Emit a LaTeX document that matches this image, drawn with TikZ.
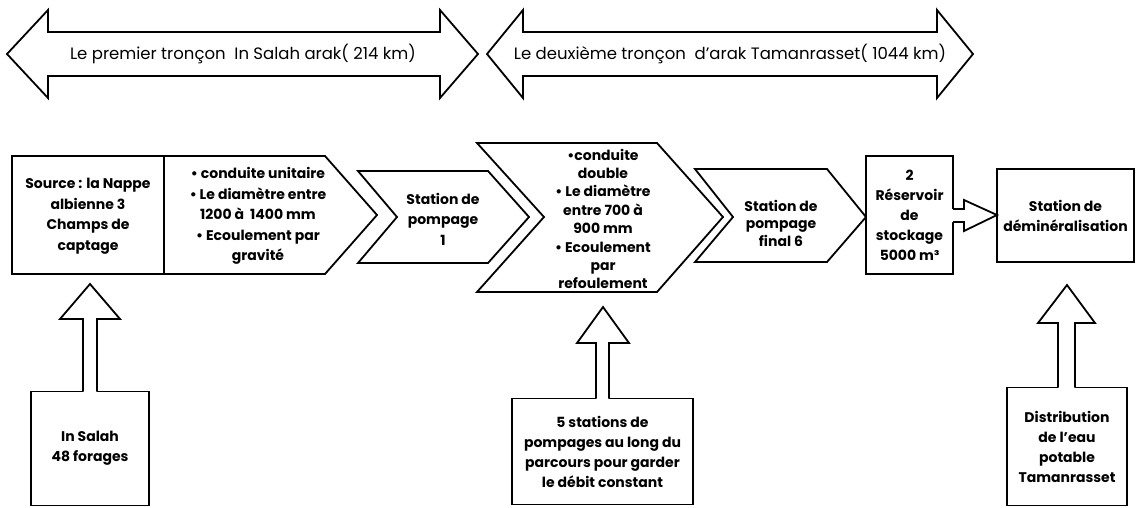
\documentclass[tikz,border=0pt]{standalone}
\usepackage{fontspec}
\setmainfont{Poppins}
\begin{document}
\begin{tikzpicture}[x=1pt,y=-1pt,
  shp/.style={draw=black, line width=1.8pt, fill=white, line join=miter},
  ol/.style={draw=black, line width=1.8pt, line join=miter},
  lbl/.style={align=center, inner sep=0pt, font=\bfseries\fontsize{14}{20.5}\selectfont},
  toplbl/.style={align=center, inner sep=0pt, font=\fontsize{16.5}{18}\selectfont},
  box/.style={draw=black, line width=1.8pt, fill=white, inner sep=0pt, outer sep=0pt, align=center, font=\bfseries\fontsize{14}{20}\selectfont}]
\useasboundingbox (0,0) rectangle (1137,507);

% top double arrows
\draw[shp] (7,54) -- (48,10) -- (48,32) -- (440,32) -- (440,10) -- (478,54) -- (440,98) -- (440,76) -- (48,76) -- (48,98) -- cycle;
\node[toplbl] (t1) at (243,54) {Le premier tronçon\ \ In Salah arak( 214 km)};
\draw[shp] (487,54) -- (523,10) -- (523,32) -- (937,32) -- (937,10) -- (973,54) -- (937,98) -- (937,76) -- (523,76) -- (523,98) -- cycle;
\node[toplbl] (t2) at (730,54) {Le deuxième tronçon\ \ d’arak Tamanrasset( 1044 km)};

% main row
\draw[shp] (12,156) -- (325,156) -- (377,215) -- (325,274) -- (12,274) -- cycle;
\draw[ol] (164,156) -- (164,274);
\node[lbl] (src) at (88,216) {Source : la Nappe\\albienne 3\\Champs de\\captage};
\node[lbl] (cu) at (258,216) {• conduite unitaire\\• Le diamètre entre\\1200 à\ \ 1400 mm\\• Ecoulement par\\gravité};

\draw[shp] (358,171) -- (488,171) -- (529,217) -- (488,263) -- (358,263) -- (397,217) -- cycle;
\node[lbl] (sp1) at (443,219) {Station de\\pompage\\1};

\draw[shp] (477,143) -- (657,143) -- (723,217) -- (657,292) -- (477,292) -- (544,217) -- cycle;
\node[lbl, font=\bfseries\fontsize{14}{18.4}\selectfont] (cd) at (603,219) {•conduite\\double\\• Le diamètre\\entre 700 à\\900 mm\\• Ecoulement\\par\\refoulement};

\draw[shp] (695,169) -- (827,169) -- (866,217) -- (827,262) -- (695,262) -- (733,217) -- cycle;
\node[lbl, font=\bfseries\fontsize{14}{17.5}\selectfont] (sp6) at (781,223) {Station de\\pompage\\final 6};

\node[box, minimum width=87pt, minimum height=118pt] (res) at (909.5,215) {2\\Réservoir\\de\\stockage\\5000 m³};
\node[box, minimum width=137pt, minimum height=93pt] (dem) at (1065.5,215.5) {Station de\\déminéralisation};

% small block arrow reservoir -> demineralisation
\fill[white] (950,209) -- (964,209) -- (964,200) -- (dem.west |- 0,215) -- (964,231) -- (964,222) -- (950,222) -- cycle;
\draw[ol] (res.east |- 0,209) -- (964,209) -- (964,200) -- (dem.west |- 0,215) -- (964,231) -- (964,222) -- (res.east |- 0,222);

% bottom boxes
\node[box, minimum width=118pt, minimum height=114pt] (b1) at (90,448.5) {In Salah\\48 forages};
\node[box, minimum width=181pt, minimum height=106pt] (b2) at (602.5,451.5) {5 stations de\\pompages au long du\\parcours pour garder\\le débit constant};
\node[box, minimum width=120pt, minimum height=118pt] (b3) at (1067,446.5) {Distribution\\de l’eau\\potable\\Tamanrasset};

% bottom block arrows
\fill[white] (83,394) -- (83,319) -- (60,319) -- (90,284) -- (120,319) -- (97,319) -- (97,394) -- cycle;
\draw[ol] (83,391.5) -- (83,319) -- (60,319) -- (90,284) -- (120,319) -- (97,319) -- (97,391.5);

\fill[white] (596,401) -- (596,343) -- (577,343) -- (603,307) -- (629,343) -- (609,343) -- (609,401) -- cycle;
\draw[ol] (596,398.5) -- (596,343) -- (577,343) -- (603,307) -- (629,343) -- (609,343) -- (609,398.5);

\fill[white] (1058,390) -- (1058,323) -- (1038,323) -- (1067,285) -- (1095,323) -- (1075,323) -- (1075,390) -- cycle;
\draw[ol] (1058,387.5) -- (1058,323) -- (1038,323) -- (1067,285) -- (1095,323) -- (1075,323) -- (1075,387.5);
\end{tikzpicture}
\end{document}
